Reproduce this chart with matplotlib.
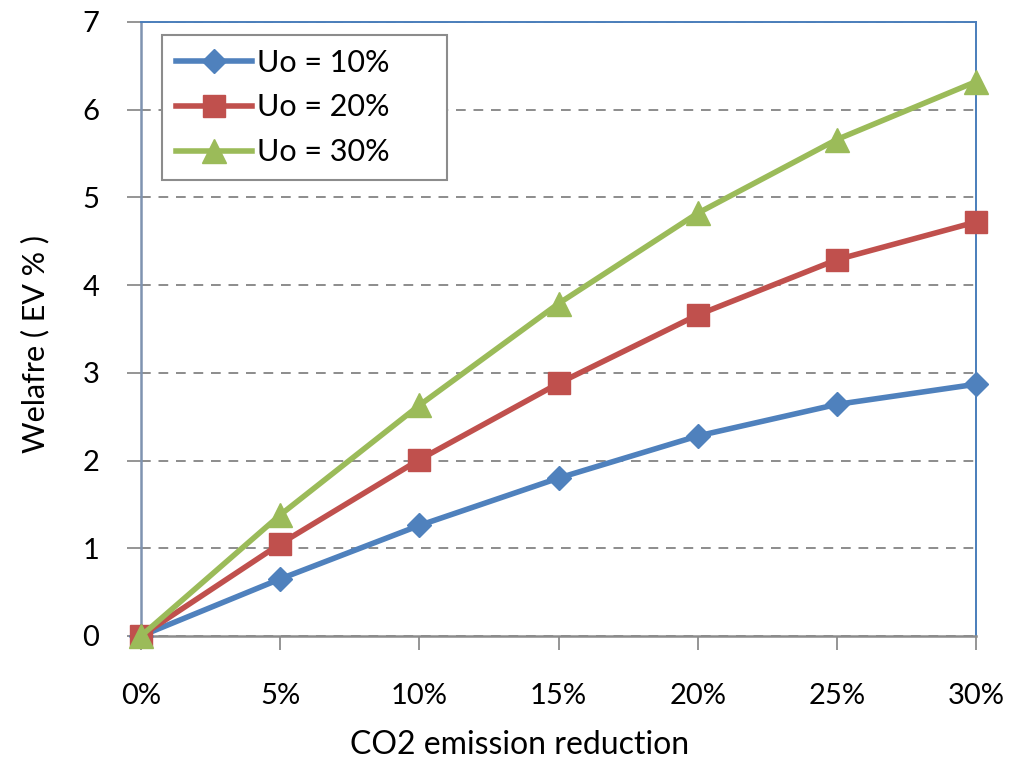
import matplotlib.pyplot as plt

plt.rcParams['font.family'] = ['Lato', 'DejaVu Sans']

# emission reduction steps and welfare change for each Uo level
reduction = ['0%', '5%', '10%', '15%', '20%', '25%', '30%']
uo_10 = [0, 0.65, 1.26, 1.80, 2.28, 2.64, 2.87]
uo_20 = [0, 1.05, 2.01, 2.88, 3.66, 4.29, 4.72]
uo_30 = [0, 1.38, 2.63, 3.79, 4.82, 5.66, 6.32]

fig = plt.figure(figsize=(10.11, 7.61), dpi=100)
ax = fig.add_axes([0.1395, 0.1643, 0.8259, 0.8068])

x = range(len(reduction))
ax.plot(x, uo_10, color='#4F81BD', linewidth=4, marker='D', markersize=12,
        label='Uo = 10%', clip_on=False, zorder=3)
ax.plot(x, uo_20, color='#C0504D', linewidth=4, marker='s', markersize=15.5,
        label='Uo = 20%', clip_on=False, zorder=3)
ax.plot(x, uo_30, color='#9BBB59', linewidth=4, marker='^', markersize=17,
        label='Uo = 30%', clip_on=False, zorder=4)

ax.set_xlim(0, 6)
ax.set_ylim(0, 7)
ax.set_xticks(list(x))
ax.set_xticklabels(reduction)
ax.set_yticks(range(8))

# dashed gridlines only inside the plot area
ax.yaxis.grid(True, linestyle=(0, (5, 4)), color='#8c8c8c', linewidth=1.4)
ax.set_axisbelow(True)

ax.tick_params(axis='x', direction='out', length=10, width=1.3, color='#8c8c8c',
               pad=24, labelsize=21)
ax.tick_params(axis='y', direction='out', length=10, width=1.3, color='#8c8c8c',
               pad=20, labelsize=21)

for side in ['top', 'right']:
    ax.spines[side].set_color('#4A7EBB')
    ax.spines[side].set_linewidth(1.4)
ax.spines['left'].set_color('#7f93b0')
ax.spines['left'].set_linewidth(1.8)
ax.spines['bottom'].set_color('#8c8c8c')
ax.spines['bottom'].set_linewidth(1.8)

ax.set_xlabel('CO2 emission reduction', fontsize=23)
ax.xaxis.set_label_coords(0.453, -0.153)
ax.set_ylabel('Welafre ( EV % )', fontsize=22)
ax.yaxis.set_label_coords(-0.110, 0.475)

# legend box stretched to a fixed width in the upper left corner
leg = ax.legend(loc='upper left', bbox_to_anchor=(0.025, 0.779, 0.341, 0.2),
                mode='expand', fontsize=22,
                fancybox=False, framealpha=1, edgecolor='#8c8c8c',
                handlelength=2.5, handletextpad=0.15, borderpad=0.45,
                labelspacing=0.55, borderaxespad=0)
leg.get_frame().set_linewidth(1.5)

fig.savefig('out.png', dpi=100)
